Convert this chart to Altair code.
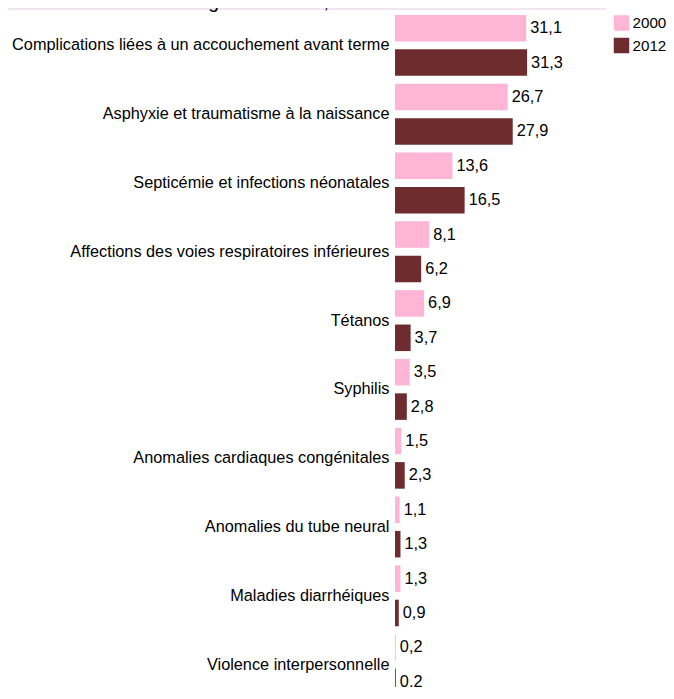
import altair as alt
import pandas as pd

causes = [
    "Complications liées à un accouchement avant terme",
    "Asphyxie et traumatisme à la naissance",
    "Septicémie et infections néonatales",
    "Affections des voies respiratoires inférieures",
    "Tétanos",
    "Syphilis",
    "Anomalies cardiaques congénitales",
    "Anomalies du tube neural",
    "Maladies diarrhéiques",
    "Violence interpersonnelle",
]
v2000 = [31.1, 26.7, 13.6, 8.1, 6.9, 3.5, 1.5, 1.1, 1.3, 0.2]
v2012 = [31.3, 27.9, 16.5, 6.2, 3.7, 2.8, 2.3, 1.3, 0.9, 0.2]
years = ["2000", "2012"]
colors = ["#FFB5D5", "#6E2C2F"]
title_text = "dans la Région africaine, 2000 et 2012"

rows = []
for c, a, b in zip(causes, v2000, v2012):
    for y, v in zip(years, [a, b]):
        rows.append({"cause": c, "year": y, "value": v,
                     "label": f"{v:.1f}".replace(".", ",")})
df = pd.DataFrame(rows)

FONT = "Liberation Sans"
FS = 16.3

base = alt.Chart(df).encode(
    y=alt.Y("cause:N", sort=causes,
            scale=alt.Scale(range=[0, 688], paddingInner=0, paddingOuter=0),
            axis=alt.Axis(title=None, ticks=False, domain=False, labelPadding=6,
                          labelFontSize=FS, labelFont=FONT, labelColor="#000000",
                          labelLimit=500)),
    yOffset=alt.YOffset("year:N", sort=years,
                        scale=alt.Scale(paddingInner=8 / 35, paddingOuter=4 / 35)),
)

bars = base.mark_bar().encode(
    x=alt.X("value:Q", scale=alt.Scale(domain=[0, 50], nice=False), axis=None),
    color=alt.Color("year:N", sort=years,
                    scale=alt.Scale(domain=years, range=colors),
                    legend=alt.Legend(orient="none", legendX=218.5, legendY=4,
                                      title=None, symbolType="square",
                                      symbolSize=240, symbolStrokeWidth=0,
                                      labelFontSize=15.2, labelFont=FONT,
                                      labelColor="#000000", rowPadding=5.5,
                                      labelOffset=3, padding=0)),
)

texts = base.mark_text(align="left", baseline="middle", dx=4, fontSize=FS,
                       font=FONT, color="#000000").encode(
    x=alt.X("value:Q"),
    text="label:N",
)

band = alt.Chart(pd.DataFrame({"t": [title_text]})).mark_rect(color="#F0E6F2").encode(
    x=alt.value(-387), x2=alt.value(211), y=alt.value(-6), y2=alt.value(-1)
)
title = alt.Chart(pd.DataFrame({"t": [title_text]})).mark_text(
    fontSize=19.4, font=FONT, color="#000000", align="center", baseline="alphabetic"
).encode(text="t:N", x=alt.value(-113.5), y=alt.value(-3))

chart = alt.layer(band, title, bars, texts).properties(
    width=211, height=676,
    padding={"left": 387, "top": 3, "right": 60, "bottom": 0},
    autosize=alt.AutoSizeParams(type="none"),
).configure_view(stroke=None)

chart.save("out.html", embed_options={"renderer": "svg", "actions": False})
